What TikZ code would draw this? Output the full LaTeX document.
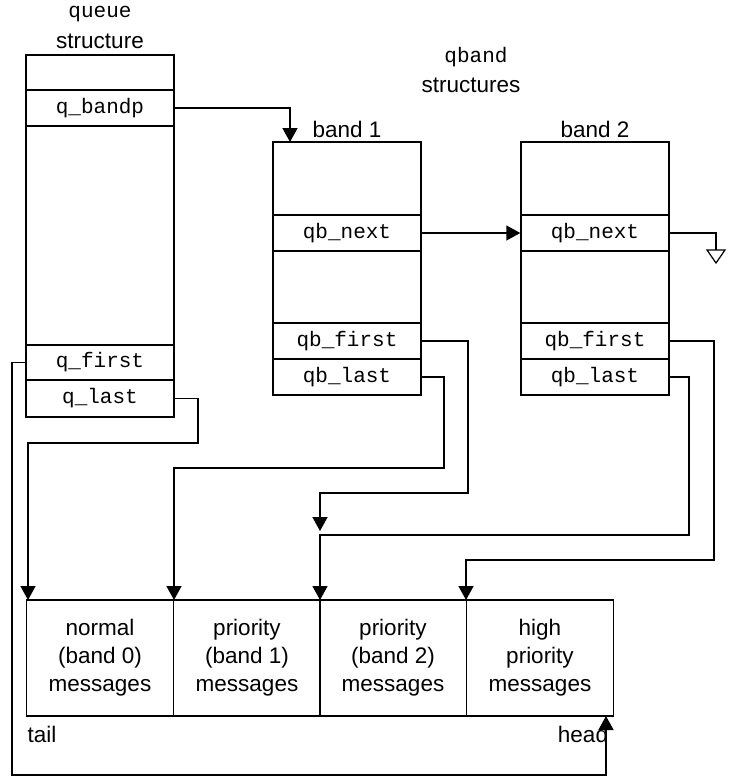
\documentclass[tikz,border=0pt]{standalone}
\usepackage{fontspec}
\setmainfont{Liberation Sans}
\newfontfamily\monof{Liberation Mono}
\usetikzlibrary{arrows.meta}
\begin{document}
\begin{tikzpicture}[x=1pt,y=-1pt,line width=1.5pt,
  cell/.style={draw,minimum width=148pt,inner sep=0pt,font=\monof\fontsize{21}{22}\selectfont},
  lbl/.style={font=\fontsize{22.5}{26}\selectfont,inner sep=0pt},
  mlbl/.style={font=\monof\fontsize{21}{22}\selectfont,inner sep=0pt},
  msg/.style={draw,minimum width=147pt,minimum height=116pt,inner sep=0pt,align=center,font=\fontsize{22.5}{28}\selectfont},
  arr/.style={-{Triangle[length=14pt,width=15pt]}}]
\useasboundingbox (0,0) rectangle (734,777);
% queue structure
\node[mlbl] (tq) at (100,14) {queue};
\node[lbl] (ts) at (100,41) {structure};
\node[cell,minimum height=35pt] (q0) at (100,72.5) {};
\node[cell,minimum height=36pt] (qbandp) at (100,108) {q\_bandp};
\node[cell,minimum height=219pt] (q2) at (100,235.5) {};
\node[cell,minimum height=35pt] (qfirst) at (100,362.5) {q\_first};
\node[cell,minimum height=37pt] (qlast) at (100,398.5) {q\_last};
% qband structures
\node[mlbl] (tqb) at (476,57) {qband};
\node[lbl] (tqs) at (471,85) {structures};
\foreach \n/\x in {1/347,2/595}{
  \node[lbl] (t\n) at (\x,129) {band \n};
}
\foreach \n/\x in {1/347,2/595}{
  \node[cell,minimum height=73pt] (b\n a) at (\x,178.5) {};
  \node[cell,minimum height=36pt] (b\n next) at (\x,233) {qb\_next};
  \node[cell,minimum height=72pt] (b\n b) at (\x,287) {};
  \node[cell,minimum height=36pt] (b\n first) at (\x,341) {qb\_first};
  \node[cell,minimum height=36pt] (b\n last) at (\x,377) {qb\_last};
}
% messages
\node[msg] (m0) at (100,658) {normal\\(band 0)\\messages};
\node[msg] (m1) at (247,658) {priority\\(band 1)\\messages};
\node[msg] (m2) at (393,658) {priority\\(band 2)\\messages};
\node[msg] (m3) at (540,658) {high\\priority\\messages};
\node[lbl] (tail) at (42,734) {tail};
\node[lbl] (head) at (583,734) {head};
% connectors
\draw[arr] (qbandp.east) -- (290,108) -- (290,142);
\draw[arr] (b1next.east) -- (b2next.west);
\coordinate (g) at (716,250);
\draw (b2next.east) -- (716,233) -- (g);
\draw[line width=1.2pt] (707,250) -- (725,250) -- (716,263) -- cycle;
\coordinate (hd) at (606,716);
\draw[arr] (qfirst.west) -- (12,362.5) -- (12,775) -- (606,775) -- (hd);
\draw[arr] (qlast.east) -- (198,398.5) -- (198,443) -- (28,443) -- (28,600);
\draw[arr] (b1last.east) -- (444,377) -- (444,468) -- (174,468) -- (174,600);
\coordinate (a1) at (320,531);
\draw[arr] (b1first.east) -- (468,341) -- (468,493) -- (320,493) -- (a1);
\draw[arr] (b2last.east) -- (689,377) -- (689,535) -- (320,535) -- (320,600);
\draw[arr] (b2first.east) -- (714,341) -- (714,560) -- (466,560) -- (466,600);
\end{tikzpicture}
\end{document}
